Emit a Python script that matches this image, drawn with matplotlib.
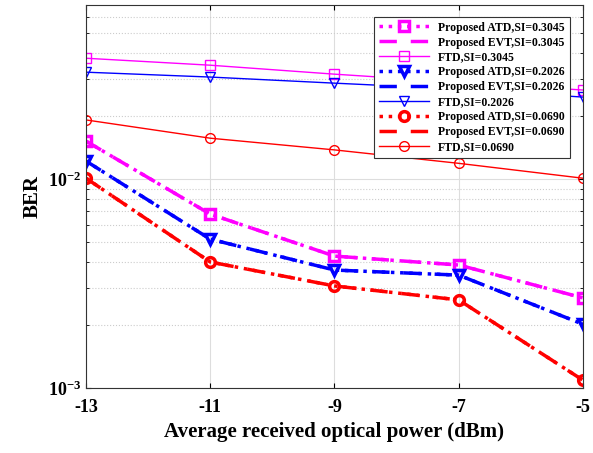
import numpy as np
import matplotlib.pyplot as plt
from matplotlib.ticker import FixedLocator, FixedFormatter

# data
power = [-13, -11, -9, -7, -5]

ftd_3045 = [0.0379, 0.0351, 0.0318, 0.0291, 0.0267]
ftd_2026 = [0.0325, 0.0308, 0.0288, 0.0270, 0.0247]
ftd_0690 = [0.0192, 0.0157, 0.0138, 0.0119, 0.0101]

atd_3045 = [0.0152, 0.00680, 0.00428, 0.00388, 0.00270]
atd_2026 = [0.0122, 0.00516, 0.00367, 0.00347, 0.00202]
atd_0690 = [0.0101, 0.00401, 0.00308, 0.00264, 0.00109]

# EVT curves coincide with ATD curves
evt_3045 = atd_3045
evt_2026 = atd_2026
evt_0690 = atd_0690

plt.rcParams['font.family'] = ['Liberation Serif', 'DejaVu Serif']
plt.rcParams['font.weight'] = 'bold'
plt.rcParams['mathtext.fontset'] = 'custom'
plt.rcParams['mathtext.rm'] = 'Liberation Serif:bold'
plt.rcParams['mathtext.bf'] = 'Liberation Serif:bold'

fig = plt.figure(figsize=(5.93, 4.53), dpi=100)
ax = fig.add_axes([0.145, 0.1435, 0.838, 0.845])

groups = [
    ('0.3045', 'magenta', 's', atd_3045, evt_3045, ftd_3045),
    ('0.2026', 'blue', 'v', atd_2026, evt_2026, ftd_2026),
    ('0.0690', 'red', 'o', atd_0690, evt_0690, ftd_0690),
]

for si, c, m, atd, evt, ftd in groups:
    ax.plot(power, atd, color=c, ls=':', lw=2.5, marker=m, ms=7,
            mfc='none', mew=2.5, label='Proposed ATD,SI=' + si)
    ax.plot(power, evt, color=c, ls=(0, (5, 4)), lw=2.5,
            label='Proposed EVT,SI=' + si)
    ax.plot(power, ftd, color=c, ls='-', lw=1, marker=m, ms=7,
            mfc='none', mew=1, label='FTD,SI=' + si)

ax.set_yscale('log')
ax.set_xlim(-13, -5)
ax.set_ylim(1e-3, 0.068)
ax.set_xticks(power)
ax.set_xticklabels([str(p) for p in power])
ax.yaxis.set_major_locator(FixedLocator([1e-3, 1e-2]))
ax.yaxis.set_major_formatter(FixedFormatter([r'$\mathbf{10^{-3}}$', r'$\mathbf{10^{-2}}$']))
ax.tick_params(which='both', direction='in', top=True, right=True, labelsize=13)
ax.tick_params(axis='x', pad=8)
ax.grid(True, which='major', color='#dddddd', lw=0.8)
ax.grid(True, which='minor', axis='y', color='#cccccc', ls=':', lw=0.8)
for s in ax.spines.values():
    s.set_color('#333333')

ax.set_xlabel('Average received optical power (dBm)', fontsize=15, fontweight='bold')
ax.set_ylabel('BER', fontsize=15, fontweight='bold')

leg = ax.legend(loc='upper right', fontsize=8.5, handlelength=4.2,
                labelspacing=0.25, borderpad=0.4, fancybox=False,
                framealpha=1, edgecolor='#333333', bbox_to_anchor=(0.985, 0.985))
leg.get_frame().set_linewidth(0.8)

fig.savefig('out.png', dpi=100)
